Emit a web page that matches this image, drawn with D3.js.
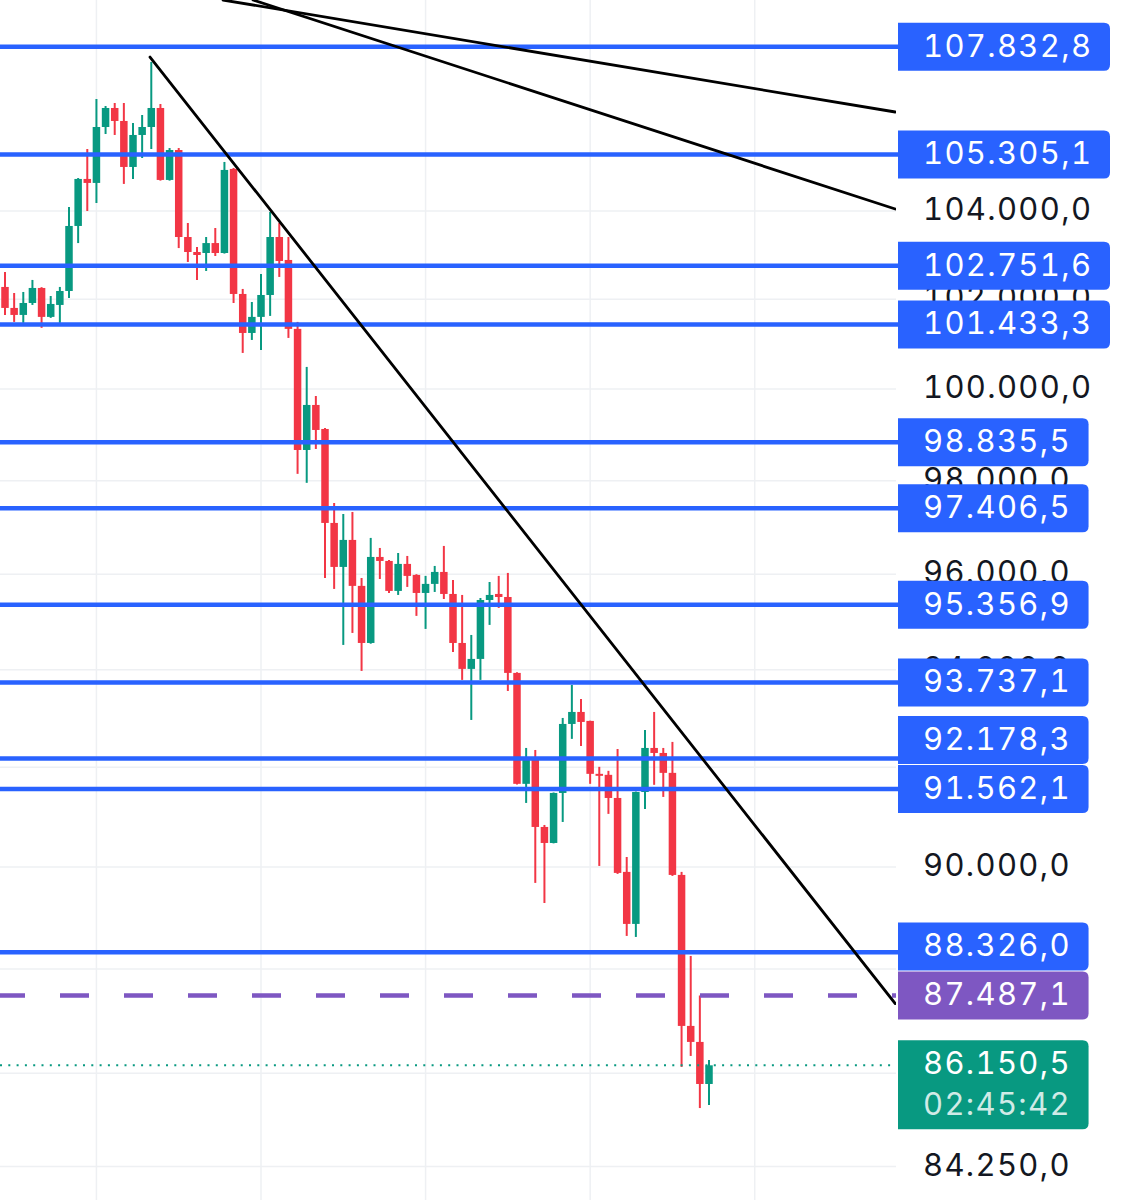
<!DOCTYPE html>
<html><head><meta charset="utf-8">
<script src="https://cdn.jsdelivr.net/npm/d3@7"></script>
<style>html,body{margin:0;padding:0;background:#fff;overflow:hidden}
text{font-feature-settings:"tnum" 1;font-variant-numeric:tabular-nums}</style>
</head><body>
<svg id="c" width="1127" height="1200"></svg>
<script>
// ---- data ----
const openP  = [102275,101803,101646,101914,102252,101602,101870,102184,103659,104739,104647,105945,106390,106086,105016,105759,105945,106390,104716,105409,103407,103066,103043,103269,103043,104970,102117,101243,101602,102094,103407,102885,101334,98665,99649,99123,97091,96154,96728,95753,94556,96366,96281,95647,96218,95985,95604,95795,96048,95583,94556,94017,94224,95456,95583,95519,93934,91665,92190,90798,90478,91481,92883,93129,92945,91867,91847,91380,89903,88878,91500,92393,92291,91887,89843,86902,86596,85797];
const highP  = [102614,102139,102162,102433,102270,102071,102275,104094,104760,105432,106601,106437,106507,106507,106039,106226,107475,106483,105455,105455,103727,103178,103407,103612,105132,104993,102230,101936,102569,103979,103727,103407,101490,100488,99846,99145,97519,97283,97326,95920,96771,96557,96302,96450,96387,96000,95964,96175,96600,95877,95562,94723,95498,95835,95964,96027,93950,92393,92352,90838,91490,93006,93686,93396,92950,92009,91928,92372,90199,91510,92760,93129,92393,92516,89903,88253,87487,86253];
const lowP   = [101646,101490,101468,101870,101357,101580,101468,102026,103269,104002,104185,105782,105759,104624,104739,105224,105432,104700,104700,103155,102840,102433,102636,102975,103030,101914,100798,101087,100864,101624,102501,101132,98147,97953,98687,95920,95689,94515,94765,93975,94540,95899,95604,95562,95731,95122,94849,95625,95477,94369,93789,92965,93789,94933,95289,93561,91650,91280,89685,89289,90470,90898,92578,92434,91665,90021,91060,89863,88643,88623,91160,91645,91401,89823,86120,86329,85343,85400];
const closeP = [101803,101646,101914,102252,101602,101892,102184,103659,104739,104647,105945,106390,106086,105016,105759,105945,106390,104716,105409,103407,103066,102998,103269,103043,104947,102117,101243,101602,102094,103407,102862,101334,98665,99649,99101,97091,96154,96728,95753,94556,96366,96281,95647,96218,95964,95604,95795,96048,95583,94556,94017,94224,95456,95562,95519,93934,91665,92190,90798,90478,91481,92883,93129,92924,91867,91827,91380,89883,88878,91500,92393,92291,91887,89843,86902,86596,85797,86150.5];

const levelPrices = [107832.8,105305.1,102751.6,101433.3,98835.5,97406.5,95356.9,93737.1,92178.3,91562.1,88326.0];
const levelLabels = ["107.832,8","105.305,1","102.751,6","101.433,3","98.835,5","97.406,5","95.356,9","93.737,1","92.178,3","91.562,1","88.326,0"];
const alertPrice = 87487.1, alertLabel = "87.487,1";
const lastPrice = 86150.5, lastLabel = "86.150,5", countdown = "02:45:42";

const gridValues = [104000,102000,100000,98000,96000,94000,92000,90000,88000,86000,84250];
const tickValues = [104000,102000,100000,98000,96000,94000,90000,84250];
const tickLabels = ["104.000,0","102.000,0","100.000,0","98.000,0","96.000,0","94.000,0","90.000,0","84.250,0"];
const gridIndex = [10,28,46,64,82];

// trend lines: [candle index, price] start and end
const trendStart = [[15.86,107592],[23.85,108952],[27.13,108952]];
const trendEnd   = [[97.37,87330],[97.37,106296],[97.37,104047]];

// ---- style ----
const C = {blue:"#2962FF", purple:"#7E57C2", up:"#089981", down:"#F23645", grid:"#eef0f3", text:"#131722"};
const W = 1127, H = 1200, plotRight = 896, axisX = 898, textX = 923, FS = 31;
const FONT = "Inter, 'Liberation Sans', Arial, sans-serif";

const svg = d3.select("#c");
svg.append("rect").attr("width",W).attr("height",H).attr("fill","#fff");

const x = d3.scaleLinear().domain([0,77]).range([5,709]);
const y = d3.scaleLog().domain([100000,90000]).range([389,867]);

svg.append("defs").append("clipPath").attr("id","plot")
  .append("rect").attr("x",0).attr("y",0).attr("width",plotRight).attr("height",H);

// text measuring (no letter-spacing)
function measure(s){
  const t = svg.append("text").attr("font-family",FONT).attr("font-size",FS).text(s);
  const w = t.node().getComputedTextLength(); t.remove(); return w;
}
const LS = Math.max(0,(168 - measure("100.000,0"))/8);
const visW = s => measure(s) + (s.length-1)*LS;

// grid
const g = svg.append("g");
g.selectAll("line.h").data(gridValues).join("line")
  .attr("x1",0).attr("x2",plotRight).attr("y1",d=>y(d)).attr("y2",d=>y(d))
  .attr("stroke",C.grid).attr("stroke-width",1.5);
g.selectAll("line.v").data(gridIndex).join("line")
  .attr("x1",d=>x(d)).attr("x2",d=>x(d)).attr("y1",0).attr("y2",H)
  .attr("stroke",C.grid).attr("stroke-width",1.5);

// tick labels
svg.append("g").selectAll("text").data(tickValues).join("text")
  .attr("x",textX).attr("y",d=>y(d)+9)
  .attr("font-family",FONT).attr("font-size",FS).attr("letter-spacing",LS)
  .attr("fill",C.text).text((d,i)=>tickLabels[i]);

// candles
const idx = d3.range(openP.length);
const cg = svg.append("g").attr("clip-path","url(#plot)");
const col = i => closeP[i] >= openP[i] ? C.up : C.down;
cg.selectAll("line.w").data(idx).join("line")
  .attr("x1",i=>x(i)).attr("x2",i=>x(i))
  .attr("y1",i=>y(highP[i])).attr("y2",i=>y(lowP[i]))
  .attr("stroke",col).attr("stroke-width",2);
cg.selectAll("rect").data(idx).join("rect")
  .attr("x",i=>x(i)-3.75).attr("width",7.5)
  .attr("y",i=>Math.min(y(openP[i]),y(closeP[i])))
  .attr("height",i=>Math.max(1.5,Math.abs(y(openP[i])-y(closeP[i]))))
  .attr("fill",col);

// horizontal levels
svg.append("g").selectAll("line").data(levelPrices).join("line")
  .attr("x1",0).attr("x2",axisX).attr("y1",d=>y(d)).attr("y2",d=>y(d))
  .attr("stroke",C.blue).attr("stroke-width",4.5);

// alert dashed line
svg.append("line").attr("x1",0).attr("x2",plotRight)
  .attr("y1",y(alertPrice)).attr("y2",y(alertPrice))
  .attr("stroke",C.purple).attr("stroke-width",4.5)
  .attr("stroke-dasharray","29,35").attr("stroke-dashoffset",4);

// last price dotted line
svg.append("line").attr("x1",0).attr("x2",plotRight)
  .attr("y1",y(lastPrice)).attr("y2",y(lastPrice))
  .attr("stroke",C.up).attr("stroke-width",2)
  .attr("stroke-dasharray","2,6.3");

// trend lines
svg.append("g").attr("clip-path","url(#plot)").selectAll("line").data(trendStart).join("line")
  .attr("x1",d=>x(d[0])).attr("y1",d=>y(d[1]))
  .attr("x2",(d,i)=>x(trendEnd[i][0])).attr("y2",(d,i)=>y(trendEnd[i][1]))
  .attr("stroke","#000").attr("stroke-width",2.8).attr("stroke-linecap","round");

// price labels with collision stacking (bottom-up)
const boxes = levelPrices.map((p,i)=>({p,label:levelLabels[i],fill:C.blue,h:48,off:24}));
boxes.push({p:alertPrice,label:alertLabel,fill:C.purple,h:48,off:24});
boxes.push({p:lastPrice,label:lastLabel,sub:countdown,fill:C.up,h:89,off:25});
boxes.forEach(b=>{b.top = y(b.p)-b.off;});
boxes.sort((a,b)=>b.top-a.top);
for(let k=1;k<boxes.length;k++){
  const below = boxes[k-1], b = boxes[k];
  if(b.top + b.h > below.top - 1) b.top = below.top - 1 - b.h;
}
function boxPath(x0,y0,w,h,r){
  return `M${x0},${y0}H${x0+w-r}Q${x0+w},${y0} ${x0+w},${y0+r}V${y0+h-r}Q${x0+w},${y0+h} ${x0+w-r},${y0+h}H${x0}Z`;
}
const bg = svg.append("g");
boxes.forEach(b=>{
  const w = (textX - axisX) + visW(b.label) + 19;
  bg.append("path").attr("d",boxPath(axisX,b.top,w,b.h,6)).attr("fill",b.fill);
  bg.append("text").attr("x",textX).attr("y",b.top+34)
    .attr("font-family",FONT).attr("font-size",FS).attr("letter-spacing",LS)
    .attr("fill","#fff").text(b.label);
  if(b.sub){
    bg.append("text").attr("x",textX).attr("y",b.top+75)
      .attr("font-family",FONT).attr("font-size",FS).attr("letter-spacing",LS)
      .attr("fill","rgba(255,255,255,0.82)").text(b.sub);
  }
});
</script>
</body></html>
